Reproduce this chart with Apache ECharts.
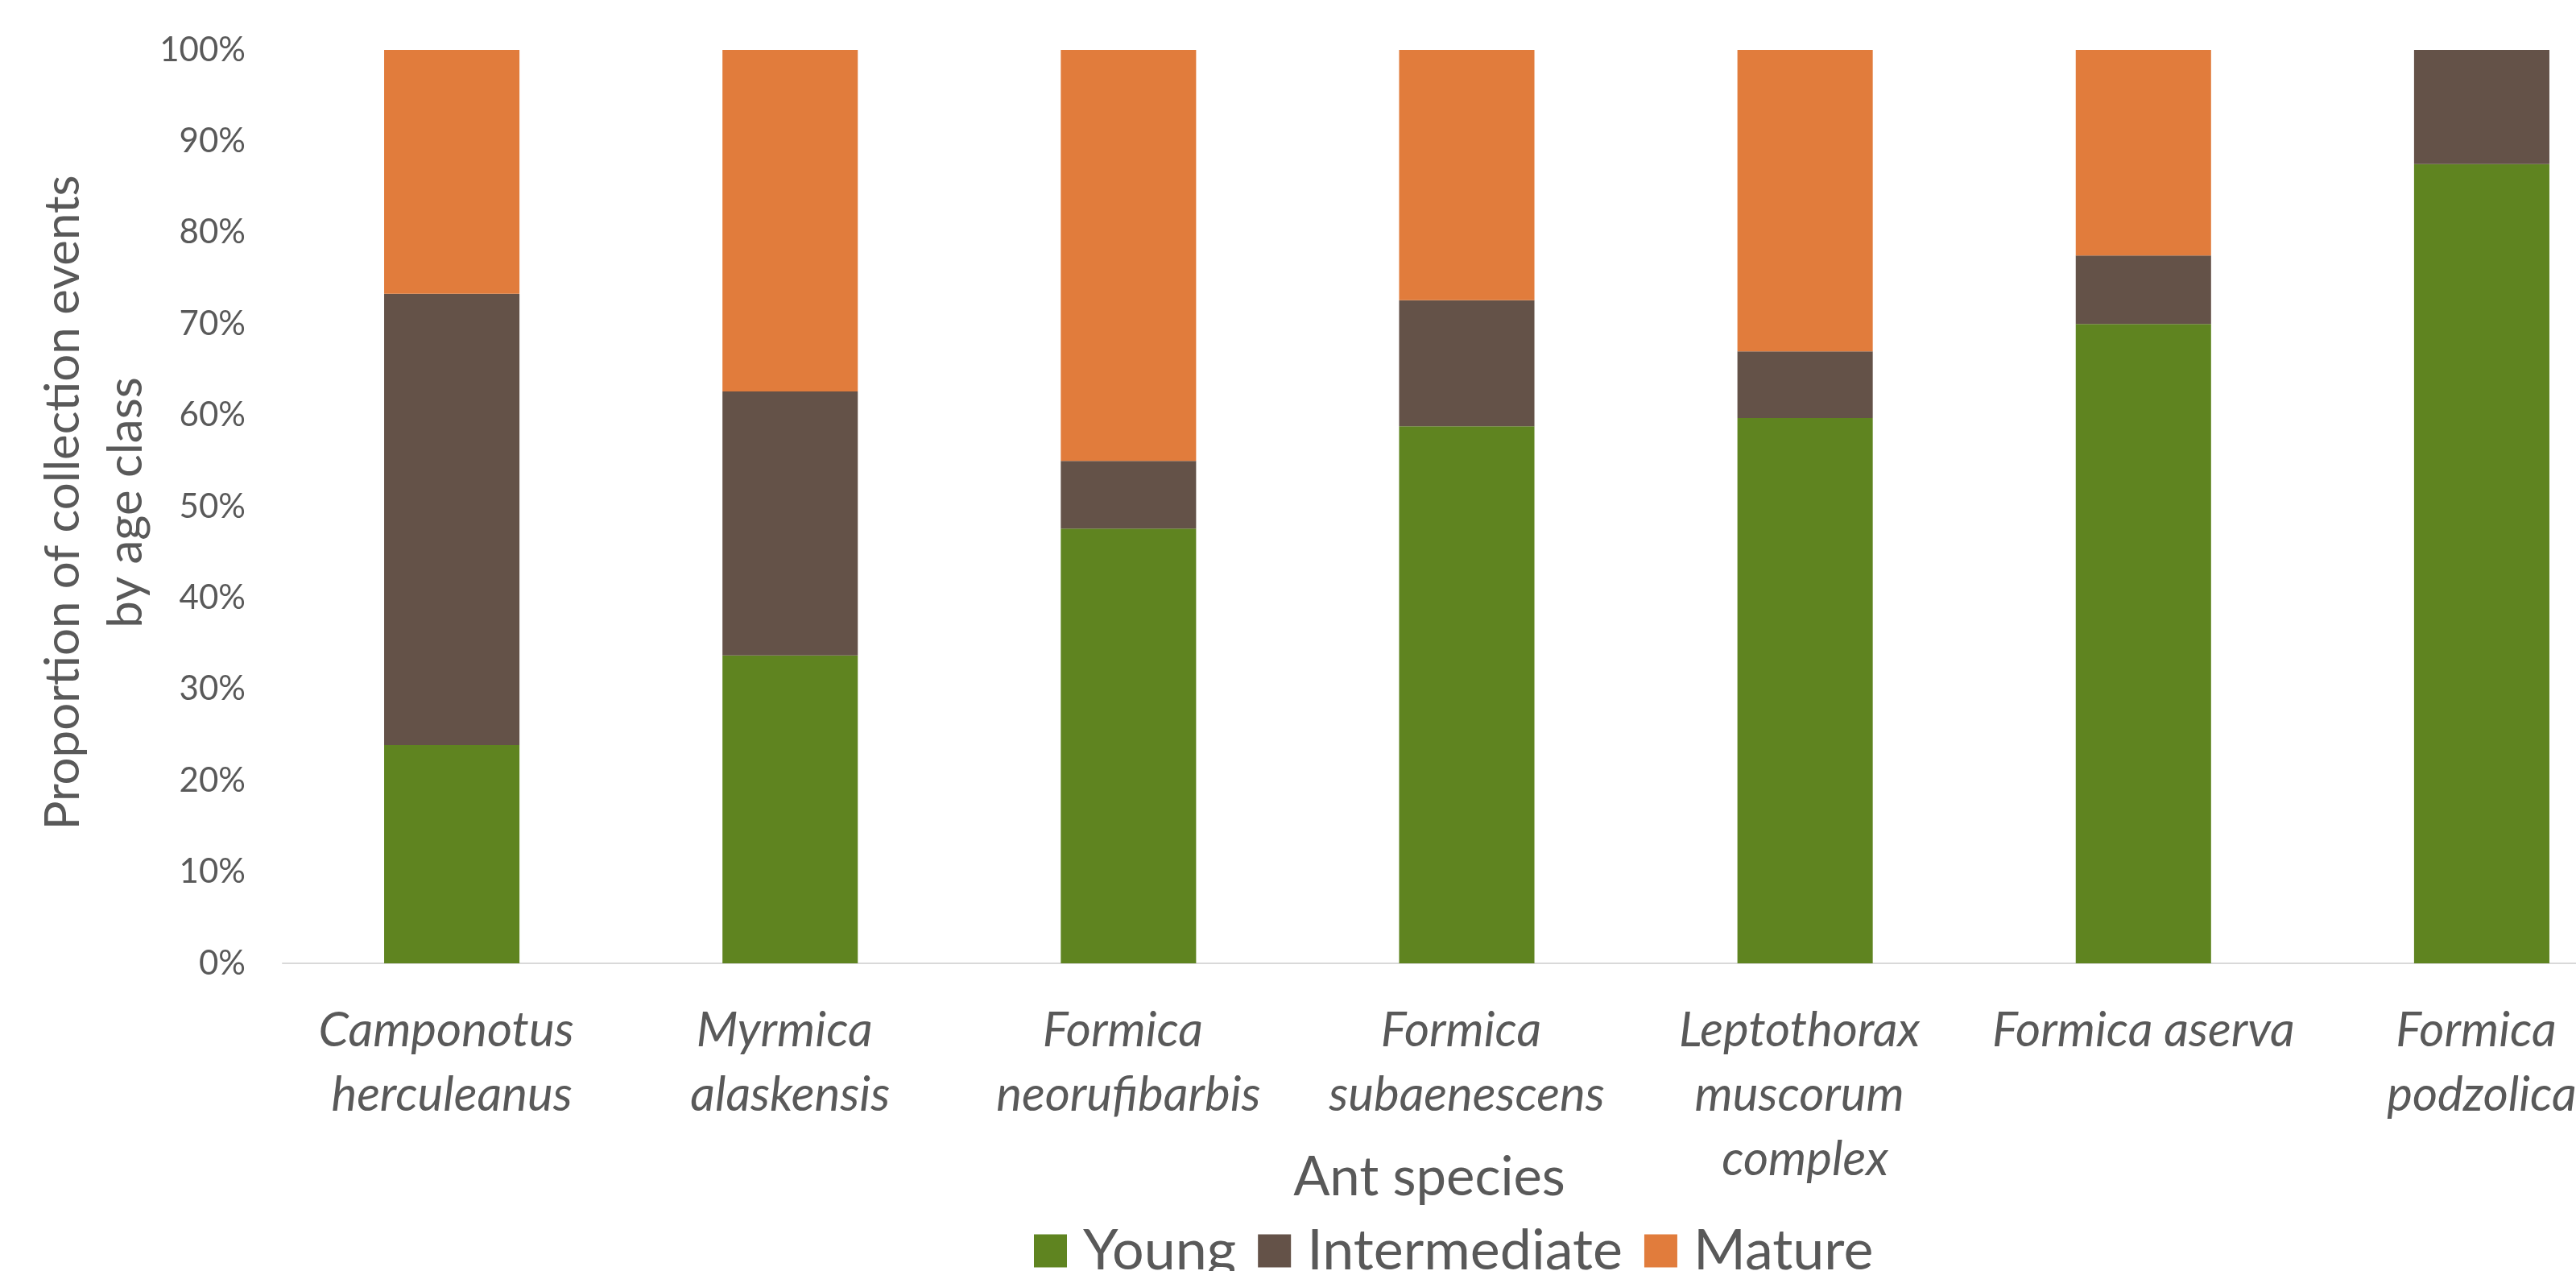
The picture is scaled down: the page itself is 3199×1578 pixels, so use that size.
<!DOCTYPE html>
<html>
<head>
<meta charset="utf-8">
<script src="https://cdn.jsdelivr.net/npm/echarts@6/dist/echarts.min.js"></script>
<style>
  html, body { margin: 0; padding: 0; background: #ffffff; overflow: hidden; }
  /* the chart runs a little past the right edge of the window, so the last column is cut */
  #chart { width: 3300px; height: 1578px; }
</style>
</head>
<body>
<div id="chart"></div>
<script>
// Ant species sampled, and the share of collection events in each age class (%)
const species = [
  'Camponotus herculeanus',
  'Myrmica alaskensis',
  'Formica neorufibarbis',
  'Formica subaenescens',
  'Leptothorax muscorum complex',
  'Formica aserva',
  'Formica podzolica'
];
const young        = [23.9, 33.7, 47.6, 58.8, 59.7, 70.0, 87.5];
const intermediate = [49.4, 28.9, 7.4, 13.8, 7.3, 7.5, 12.5];
const mature       = [26.7, 37.4, 45.0, 27.4, 33.0, 22.5, 0];
const yTicks = [0, 10, 20, 30, 40, 50, 60, 70, 80, 90, 100];

const FONT = 'Lato';
const TEXT = '#595959';
const COLORS = { young: '#5F8420', intermediate: '#645248', mature: '#E17C3C' };

const chart = echarts.init(document.getElementById('chart'), null, { renderer: 'canvas' });

chart.setOption({
  backgroundColor: '#ffffff',
  animation: false,
  textStyle: { fontFamily: FONT, color: TEXT },
  grid: { left: 351, top: 62, right: 8, height: 1134, containLabel: false },
  legend: {
    left: 1279,
    top: 1513,
    itemWidth: 41,
    itemHeight: 41,
    itemGap: 27,
    icon: 'rect',
    textStyle: { fontFamily: FONT, fontSize: 70, color: TEXT, lineHeight: 41, padding: [0, 0, 0, 15] },
    data: ['Young', 'Intermediate', 'Mature']
  },
  xAxis: {
    type: 'category',
    data: species,
    axisLine: { show: true, lineStyle: { color: '#D9D9D9', width: 2 } },
    axisTick: { show: false },
    axisLabel: {
      interval: 0,
      margin: 44,
      fontFamily: FONT,
      fontStyle: 'italic',
      fontSize: 60,
      lineHeight: 80,
      color: TEXT,
      width: 412,
      overflow: 'break',
      align: 'center'
    }
  },
  yAxis: {
    type: 'value',
    min: yTicks[0],
    max: yTicks[yTicks.length - 1],
    interval: yTicks[1] - yTicks[0],
    axisLine: { show: false },
    axisTick: { show: false },
    splitLine: { show: false },
    axisLabel: {
      margin: 46,
      fontFamily: FONT,
      fontSize: 42,
      color: TEXT,
      formatter: '{value}%'
    }
  },
  series: [
    { name: 'Young', type: 'bar', stack: 'age', data: young, barWidth: '40%',
      itemStyle: { color: COLORS.young } },
    { name: 'Intermediate', type: 'bar', stack: 'age', data: intermediate, barWidth: '40%',
      itemStyle: { color: COLORS.intermediate } },
    { name: 'Mature', type: 'bar', stack: 'age', data: mature, barWidth: '40%',
      itemStyle: { color: COLORS.mature } }
  ],
  graphic: [
    {
      type: 'text',
      x: 1775,
      y: 1462,
      style: {
        text: 'Ant species',
        font: '67px Lato',
        fill: TEXT,
        textAlign: 'center',
        textVerticalAlign: 'middle'
      }
    },
    {
      type: 'text',
      x: 118,
      y: 624,
      rotation: Math.PI / 2,
      style: {
        text: 'Proportion of collection events\nby age class',
        font: '60px Lato',
        fill: TEXT,
        lineHeight: 78,
        textAlign: 'center',
        textVerticalAlign: 'middle'
      }
    }
  ]
});
</script>
</body>
</html>
